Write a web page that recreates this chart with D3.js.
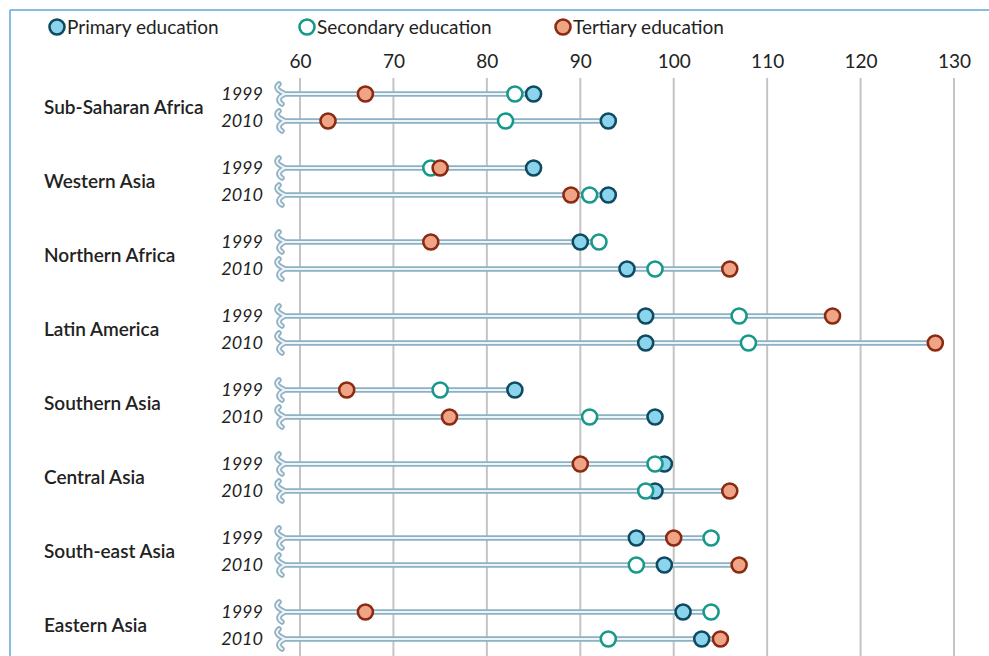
<!DOCTYPE html>
<html>
<head>
<meta charset="utf-8">
<script src="https://cdn.jsdelivr.net/npm/d3@7"></script>
<style>
  body { margin: 0; background: #fff; }
  text { font-family: Lato, "Open Sans", sans-serif; fill: #222; }
</style>
</head>
<body>
<svg id="chart" width="989" height="656"></svg>
<script>
// data (gross enrolment ratio, %)
const regions = ["Sub-Saharan Africa", "Western Asia", "Northern Africa", "Latin America",
                 "Southern Asia", "Central Asia", "South-east Asia", "Eastern Asia"];
const years = ["1999", "2010"];
const series = ["Primary education", "Secondary education", "Tertiary education"];
// one entry per region: [1999, 2010]
const primary   = [[85, 93], [85, 93], [90, 95], [97, 97], [83, 98], [99, 98], [96, 99], [101, 103]];
const secondary = [[83, 82], [74, 91], [92, 98], [107, 108], [75, 91], [98, 97], [104, 96], [104, 93]];
const tertiary  = [[67, 63], [75, 89], [74, 106], [117, 128], [65, 76], [90, 106], [100, 107], [67, 105]];
const ticks = [60, 70, 80, 90, 100, 110, 120, 130];

const svg = d3.select("#chart");
const width = +svg.attr("width");
const height = +svg.attr("height");

const styles = [
  { fill: "#8ad4ec", stroke: "#0f4a62" },
  { fill: "#ffffff", stroke: "#16998a" },
  { fill: "#efa486", stroke: "#8a2a12" }
];

const x = d3.scaleLinear().domain([60, 130]).range([300, 954]);
const yGroup = d3.scaleBand().domain(regions).range([70, 662]).padding(0);
const yRow = d3.scaleBand().domain(years).range([0, 54]).paddingInner(0);
// row center: group start + offset
const rowY = (r, yr) => yGroup(r) + 24 + yRow(yr);

// frame
svg.append("line").attr("x1", 10).attr("x2", width).attr("y1", 10).attr("y2", 10)
  .attr("stroke", "#5ba7de").attr("stroke-width", 1.5);
svg.append("line").attr("x1", 10).attr("x2", 10).attr("y1", 10).attr("y2", height)
  .attr("stroke", "#5ba7de").attr("stroke-width", 1.5);

// legend
const legendX = [57, 307, 563];
const legend = svg.append("g");
series.forEach((s, i) => {
  legend.append("circle").attr("cx", legendX[i]).attr("cy", 27).attr("r", 7.5)
    .attr("fill", styles[i].fill).attr("stroke", styles[i].stroke).attr("stroke-width", 2.6);
  legend.append("text").attr("x", legendX[i] + 10).attr("y", 34)
    .attr("font-size", 19).attr("fill", "#333").text(s);
});

// axis
const xAxis = d3.axisTop(x).tickValues(ticks).tickSize(0).tickPadding(0);
const axisG = svg.append("g").attr("transform", "translate(0,68)").call(xAxis);
axisG.select(".domain").remove();
axisG.selectAll("text").attr("font-size", 19).attr("fill", "#333")
  .style("font-family", "Lato, 'Open Sans', sans-serif");

svg.append("g").selectAll("line").data(ticks).join("line")
  .attr("x1", d => x(d)).attr("x2", d => x(d))
  .attr("y1", 78).attr("y2", height)
  .attr("stroke", "#c4c4c4").attr("stroke-width", 2);

// rows
const rows = [];
regions.forEach((r, ri) => {
  years.forEach((yr, yi) => {
    rows.push({
      region: r, year: yr, y: rowY(r, yr),
      vals: [primary[ri][yi], secondary[ri][yi], tertiary[ri][yi]]
    });
  });
});

// region labels
svg.append("g").selectAll("text").data(regions).join("text")
  .attr("x", 44).attr("y", r => yGroup(r) + 24 + 13.5 + 6)
  .attr("font-size", 19).attr("font-weight", 600).attr("fill", "#2a2a2a")
  .text(r => r);

// year labels
svg.append("g").selectAll("text").data(rows).join("text")
  .attr("x", 263).attr("y", d => d.y + 6)
  .attr("text-anchor", "end").attr("font-size", 18).attr("font-style", "italic")
  .attr("fill", "#333")
  .text(d => d.year);

// bar path: broken-axis squiggle then a line to the largest value
function barPath(d) {
  const y = d.y;
  const end = x(d3.max(d.vals));
  return `M279,${y - 10} C274,${y - 6} 279,${y - 3} 285,${y} ` +
         `C280,${y + 2} 276,${y + 6} 282,${y + 10} ` +
         `M285,${y} L${end},${y}`;
}
const bars = svg.append("g");
bars.selectAll("path.outer").data(rows).join("path").attr("class", "outer")
  .attr("d", barPath).attr("fill", "none")
  .attr("stroke", "#8fb2c3").attr("stroke-width", 5.5).attr("stroke-linecap", "round");
bars.selectAll("path.inner").data(rows).join("path").attr("class", "inner")
  .attr("d", barPath).attr("fill", "none")
  .attr("stroke", "#eef4f7").attr("stroke-width", 2).attr("stroke-linecap", "round");

// dots
const dots = svg.append("g");
series.forEach((s, si) => {
  dots.selectAll("circle.s" + si).data(rows).join("circle").attr("class", "s" + si)
    .attr("cx", d => x(d.vals[si])).attr("cy", d => d.y).attr("r", 7.5)
    .attr("fill", styles[si].fill).attr("stroke", styles[si].stroke).attr("stroke-width", 2.6);
});
</script>
</body>
</html>
